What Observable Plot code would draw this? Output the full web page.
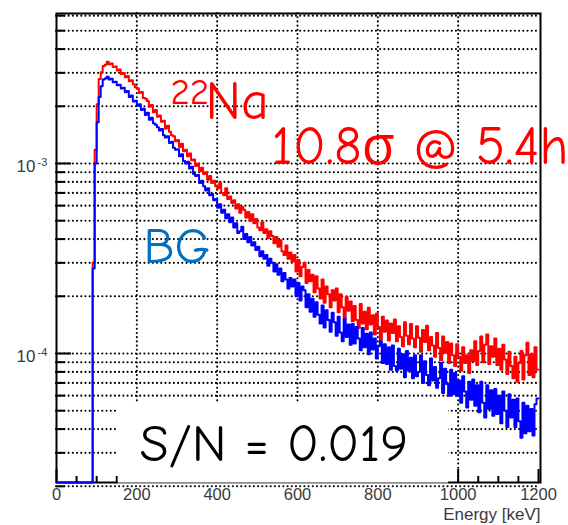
<!DOCTYPE html>
<html><head><meta charset="utf-8">
<script src="https://cdn.jsdelivr.net/npm/d3@7"></script>
<script src="https://cdn.jsdelivr.net/npm/@observablehq/plot@0.6"></script>
<style>
body{margin:0;background:#fff;}
#chart{width:568px;height:525px;}
</style>
</head><body><div id="chart"></div>
<script>
// Histogram: 5 keV bins starting at 90 keV, counts in units of 1e-5
const binWidth = 5;
const firstBin = 90;
const unit = 1e-5;

const na22Counts = [
  30, 118, 205, 278, 302, 326, 331, 343, 333, 336,
  322, 324, 309, 312, 296, 299, 284, 289, 271, 274,
  261, 252, 249, 235, 238, 221, 219, 213, 199, 203,
  186, 191, 176, 179, 166, 168, 153, 158, 147, 141,
  139, 131, 133, 122, 127, 116, 118, 109, 113, 104,
  105, 97, 100, 91, 95, 88, 90, 82, 86, 79,
  81, 76, 74, 79, 70, 68, 74, 65, 67, 62,
  64, 58, 61, 55, 59, 57, 52, 55.5, 50, 54,
  48.5, 51, 46, 44.5, 49, 43, 45, 40.5, 44, 41.5,
  38, 41, 36.5, 39.5, 34.5, 33, 37, 31.5, 34, 30.5,
  33, 27, 31, 25.5, 28.5, 30, 23.5, 27.5, 24, 26,
  21, 25.5, 22, 19.5, 24.5, 18.5, 22.5, 20.5, 17.5, 21.5,
  19, 22, 16.5, 20.5, 17.5, 15.2, 19.8, 16.8, 18.8, 14.8,
  17.8, 15, 13.6, 18.2, 14.4, 16.6, 13.4, 17.4, 14.2, 15.9,
  12.6, 16.2, 13.8, 11.8, 15.6, 13.0, 14.9, 11.7, 14.4, 12.8,
  15.1, 11.6, 13.9, 12.2, 10.9, 14.6, 12.4, 11.2, 14.3, 12.0,
  10.8, 13.9, 12.1, 10.2, 13.3, 11.5, 14.0, 10.4, 12.2, 11.0,
  9.6, 12.8, 10.7, 9.2, 12.3, 10.1, 11.5, 8.9, 11.3, 9.8,
  8.6, 11.2, 9.6, 8.1, 10.8, 8.9, 9.8, 7.9, 10.4, 9.1,
  11.6, 8.7, 10.3, 12.3, 9.0, 11.1, 12.6, 8.8, 10.9, 9.6,
  12.0, 8.7, 10.6, 8.2, 11.1, 9.3, 7.8, 10.2, 8.6, 7.4,
  9.6, 7.1, 8.9, 10.3, 7.3, 9.8, 11.4, 7.7, 9.9, 7.5,
  10.8, 8.2
];

const bgCounts = [
  28, 100, 165, 224, 255, 277, 280, 286, 277, 279,
  268, 269, 258, 260, 248, 250, 237, 241, 224, 228,
  212, 214, 201, 205, 191, 194, 180, 185, 170, 174,
  163, 160, 155, 149, 152, 141, 137, 139, 128, 130,
  121, 118, 119, 109, 112, 103, 100, 102, 94, 96,
  88, 86, 87, 79, 81, 76, 72, 74, 68, 69,
  64, 65, 58.5, 61, 55, 57, 51.5, 54, 49, 52,
  46, 48.5, 43, 44, 46.5, 40, 42.5, 38.5, 41, 37,
  38.5, 35, 36.5, 32.5, 34.5, 31.5, 33, 29, 31.5, 30,
  27, 29.5, 26, 28, 24, 26.5, 24.5, 22, 25, 22.5,
  24.5, 20, 23.5, 19, 22.5, 21.5, 17.5, 20.5, 16.6, 19.4,
  15.6, 18.6, 16.0, 14.4, 17.9, 13.7, 16.9, 15.0, 13.0, 16.4,
  14.6, 12.4, 15.6, 12.9, 11.6, 15.2, 12.2, 14.2, 11.1, 14.3,
  11.3, 13.8, 12.0, 10.4, 13.6, 10.8, 12.7, 9.9, 12.9, 10.5,
  12.0, 9.4, 10.9, 11.6, 8.9, 11.2, 8.8, 10.8, 8.2, 11.0,
  8.6, 8.1, 10.6, 8.3, 9.9, 7.5, 10.3, 8.1, 9.5, 7.4,
  9.8, 7.6, 8.0, 9.8, 7.0, 9.1, 7.7, 6.8, 9.4, 7.2,
  8.5, 6.6, 7.4, 8.9, 6.2, 8.3, 6.9, 6.0, 8.2, 6.1,
  7.9, 6.0, 7.2, 5.5, 7.6, 6.3, 5.2, 7.1, 5.7, 7.3,
  5.3, 6.8, 4.9, 7.1, 5.5, 4.6, 6.8, 5.1, 6.4, 4.7,
  6.5, 4.8, 6.0, 4.3, 6.3, 5.0, 4.1, 6.1, 4.6, 5.7,
  4.1, 5.8, 4.4, 3.6, 5.5, 3.8, 5.3, 3.9, 5.1, 3.7,
  5.4, 5.8
];

const xTicks = [0, 200, 400, 600, 800, 1000, 1200];
const xGridTicks = [200, 400, 600, 800, 1000];
const xMinorTicks = [50, 100, 150, 250, 300, 350, 450, 500, 550, 650, 700, 750, 850, 900, 950, 1050, 1100, 1150];
const yMajorTicks = [1e-4, 1e-3];
const yExponents = ["-4", "-3"];
const yMinorTicks = [2e-5, 3e-5, 4e-5, 5e-5, 6e-5, 7e-5, 8e-5, 9e-5,
  2e-4, 3e-4, 4e-4, 5e-4, 6e-4, 7e-4, 8e-4, 9e-4,
  2e-3, 3e-3, 4e-3, 5e-3, 6e-3];
const xLabel = "Energy [keV]";
const xDomain = [0, 1205];
const yDomain = [2.094e-5, 6.157e-3];

function toSteps(counts) {
  const rows = [{E: 0, v: yDomain[0]}];
  counts.forEach((c, i) => rows.push({E: firstBin + i * binWidth, v: Math.max(c * unit, yDomain[0])}));
  rows.push({E: firstBin + counts.length * binWidth, v: counts[counts.length - 1] * unit});
  return rows;
}
const redRows = toSteps(na22Counts);
const blueRows = toSteps(bgCounts);

const dotted = {stroke: "#000", strokeOpacity: 1, strokeWidth: 2.1, strokeDasharray: "0.01,4.2", strokeLinecap: "round"};
const annFont = "'Comic Sans MS','Comic Neue','Open Sans',sans-serif";
const tickOpts = {tickFormat: () => "", strokeWidth: 2, stroke: "#000", label: null};

const chart = Plot.plot({
  width: 568,
  height: 525,
  marginLeft: 56,
  marginRight: 28,
  marginTop: 13,
  marginBottom: 43,
  style: {background: "#fff", fontFamily: "'Liberation Sans', Arial, sans-serif"},
  x: {type: "linear", domain: xDomain, axis: null},
  y: {type: "log", domain: yDomain, axis: null},
  marks: [
    Plot.gridY({ticks: [...yMajorTicks, ...yMinorTicks], ...dotted}),
    Plot.gridX({ticks: xGridTicks, ...dotted}),
    Plot.frame({stroke: "#000", strokeWidth: 2}),
    Plot.line(redRows, {x: "E", y: "v", curve: "step-after", stroke: "#ff0000", strokeWidth: 2}),
    Plot.line(blueRows, {x: "E", y: "v", curve: "step-after", stroke: "#0000ff", strokeWidth: 2}),
    Plot.axisY({ticks: yMajorTicks, tickSize: -15, ...tickOpts}),
    Plot.axisY({ticks: yMinorTicks, tickSize: -9, ...tickOpts}),
    Plot.axisX({ticks: xTicks, tickSize: -13, ...tickOpts}),
    Plot.axisX({ticks: xMinorTicks, tickSize: -6, ...tickOpts}),
    // white S/N box covering the bottom of the frame
    Plot.rect([0], {x1: 154, x2: 976, y1: 5.47e-5, y2: 2.06e-5, fill: "#fff"}),
    Plot.ruleY([yDomain[0]], {x1: 154, x2: 976, stroke: "#8a8a8a", strokeWidth: 1}),
    // tick labels
    Plot.axisX({ticks: xTicks, tickSize: 0, tickPadding: 6, fontSize: 16.5, fill: "#3a3a3a", tickFormat: d => String(d), label: null}),
    Plot.text(yMajorTicks, {y: d => d, frameAnchor: "left", text: () => "10", dx: -21, dy: 3.5, textAnchor: "end", fontSize: 17, fill: "#3a3a3a"}),
    Plot.text(yMajorTicks, {y: d => d, frameAnchor: "left", text: (d, i) => yExponents[i], dx: -19, dy: -1, textAnchor: "start", fontSize: 11, fill: "#3a3a3a"}),
    Plot.text([xLabel], {frameAnchor: "bottom-right", text: d => d, dx: 0, dy: 37, textAnchor: "end", fontSize: 17, fill: "#3a3a3a"}),
    // annotations
    Plot.text(["22"], {frameAnchor: "top-left", text: d => d, dx: 114, dy: 90, lineAnchor: "bottom", textAnchor: "start", fontSize: 37, fill: "#ff0000", fontFamily: annFont}),
    Plot.text(["Na"], {frameAnchor: "top-left", text: d => d, dx: 149, dy: 105, lineAnchor: "bottom", textAnchor: "start", fontSize: 54, fill: "#ff0000", fontFamily: annFont}),
    Plot.text(["10.8σ @ 5.4h"], {frameAnchor: "top-left", text: d => d, dx: 215, dy: 150, lineAnchor: "bottom", textAnchor: "start", fontSize: 54, fill: "#ff0000", fontFamily: annFont}),
    Plot.text(["BG"], {frameAnchor: "top-left", text: d => d, dx: 87, dy: 249, lineAnchor: "bottom", textAnchor: "start", fontSize: 50, fill: "#0070c0", fontFamily: annFont}),
    Plot.text(["S/N = 0.019"], {frameAnchor: "top-left", text: d => d, dx: 83, dy: 447, lineAnchor: "bottom", textAnchor: "start", fontSize: 53, fill: "#000", fontFamily: annFont})
  ]
});
chart.style.overflow = "visible";
document.getElementById("chart").appendChild(chart);
</script>
</body></html>
